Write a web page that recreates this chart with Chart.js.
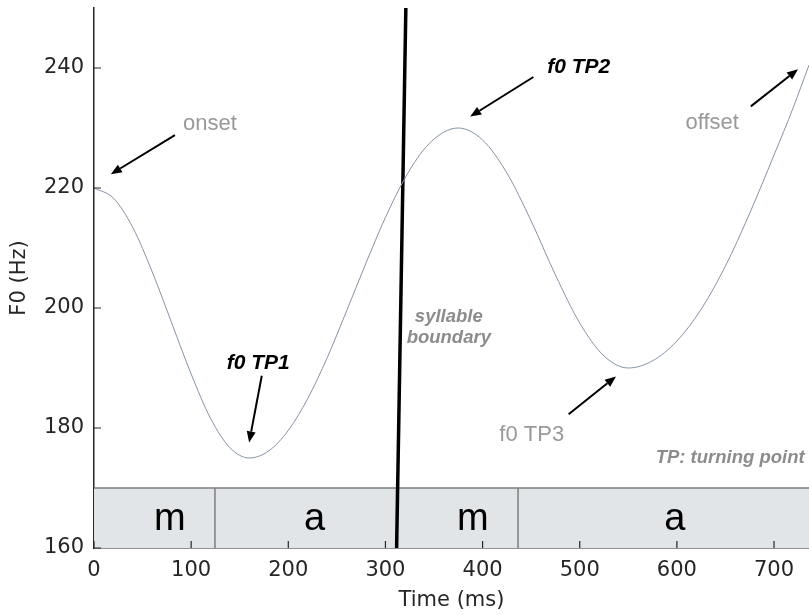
<!DOCTYPE html>
<html>
<head>
<meta charset="utf-8">
<script src="https://cdn.jsdelivr.net/npm/chart.js@4.4.0/dist/chart.umd.min.js"></script>
<style>
  html, body { margin: 0; padding: 0; background: #fff; }
  #wrap { width: 809px; height: 615px; }
</style>
</head>
<body>
<div id="wrap"><canvas id="graficoF0" width="809" height="615"></canvas></div>
<script>
// Contorno de F0 (tempo em ms, F0 em Hz)
const tempos = [0, 20, 40, 60, 80, 100, 120, 140, 160, 180, 200, 220, 240, 260, 280, 300, 320, 340, 360, 375,
  400, 425, 450, 475, 500, 525, 550, 575, 600, 625, 650, 675, 700, 720, 736];
const valoresF0 = [220, 218.3, 213.4, 206, 197.5, 189, 181.6, 176.7, 175, 176.2, 179.6, 184.9, 191.7, 199.5, 207.5, 215.1, 221.6, 226.5, 229.3, 230,
  228, 222.5, 214.5, 205.5, 197.5, 192, 190, 191.2, 194.5, 199.8, 207, 215.8, 225.5, 233.5, 240.5];

// Fronteira silábica (linha grossa)
const fronteiraTempo = [311.5, 321];
const fronteiraF0 = [160, 250];

// Segmentos (faixa inferior)
const segmentos = ['m', 'a', 'm', 'a'];
const segInicio = [0, 124.5, 311.5, 436.5];
const segFim = [124.5, 311.5, 436.5, 736];
const segRotuloX = [78, 227, 390, 598];

// Ticks dos eixos
const ticksX = [0, 100, 200, 300, 400, 500, 600, 700];
const ticksY = [160, 180, 200, 220, 240];

// Anotações: texto, posição e seta (de -> para), em unidades dos eixos
const notas = [
  { texto: 'onset', x: 119.3, y: 230.7, cor: '#999999', fonte: '22px "Liberation Sans"', seta: [83.3, 228.8, 17.3, 222.3] },
  { texto: 'f0 TP1', x: 169, y: 190.8, cor: '#000000', fonte: 'italic bold 21px "Liberation Sans"', seta: [172.7, 188.7, 159.7, 177.6] },
  { texto: 'f0 TP2', x: 499, y: 240.2, cor: '#000000', fonte: 'italic bold 21px "Liberation Sans"', seta: [452.3, 238.5, 387.2, 231.9] },
  { texto: 'offset', x: 636.3, y: 230.9, cor: '#999999', fonte: '22px "Liberation Sans"', seta: [676.1, 233.6, 724.7, 239.8] },
  { texto: 'f0 TP3', x: 450.6, y: 178.9, cor: '#999999', fonte: '22px "Liberation Sans"', seta: [488.6, 182.3, 537.3, 188.6] },
  { texto: 'syllable', x: 365.2, y: 198.5, cor: '#8c8c8c', fonte: 'italic bold 18.5px "Liberation Sans"' },
  { texto: 'boundary', x: 365.2, y: 195, cor: '#8c8c8c', fonte: 'italic bold 18.5px "Liberation Sans"' },
  { texto: 'TP: turning point', x: 731.5, y: 175, cor: '#8c8c8c', fonte: 'italic bold 18.5px "Liberation Sans"', alinhar: 'right' }
];

const corTexto = '#262626';
const fonteEixo = { family: '"DejaVu Sans"', size: 21 };

// Faixa dos segmentos, desenhada antes das linhas
const faixaSegmentos = {
  id: 'faixaSegmentos',
  beforeDatasetsDraw(chart) {
    const { ctx, scales: { x, y } } = chart;
    const topo = y.getPixelForValue(170);
    const base = y.getPixelForValue(160);
    ctx.save();
    segmentos.forEach((s, i) => {
      const x0 = x.getPixelForValue(segInicio[i]);
      const x1 = x.getPixelForValue(segFim[i]);
      ctx.fillStyle = '#e2e5e8';
      ctx.fillRect(x0, topo, x1 - x0, base - topo);
    });
    ctx.strokeStyle = '#7d7d7d';
    ctx.lineWidth = 1.5;
    ctx.beginPath();
    ctx.moveTo(x.getPixelForValue(0), topo);
    ctx.lineTo(x.getPixelForValue(736), topo);
    segInicio.slice(1).forEach(v => {
      const px = x.getPixelForValue(v);
      ctx.moveTo(px, topo);
      ctx.lineTo(px, base);
    });
    ctx.stroke();
    ctx.fillStyle = '#000';
    ctx.font = '38px "Liberation Sans"';
    ctx.textAlign = 'center';
    ctx.textBaseline = 'middle';
    segmentos.forEach((s, i) => {
      ctx.fillText(s, x.getPixelForValue(segRotuloX[i]), y.getPixelForValue(164.8));
    });
    ctx.restore();
  }
};

function desenharSeta(ctx, x0, y0, x1, y1) {
  const ang = Math.atan2(y1 - y0, x1 - x0);
  const comp = 11, larg = 4.5;
  const bx = x1 - comp * Math.cos(ang);
  const by = y1 - comp * Math.sin(ang);
  ctx.beginPath();
  ctx.moveTo(x0, y0);
  ctx.lineTo(bx, by);
  ctx.stroke();
  ctx.beginPath();
  ctx.moveTo(x1, y1);
  ctx.lineTo(bx + larg * Math.sin(ang), by - larg * Math.cos(ang));
  ctx.lineTo(bx - larg * Math.sin(ang), by + larg * Math.cos(ang));
  ctx.closePath();
  ctx.fill();
}

// Textos, setas e ticks internos dos eixos
const anotacoes = {
  id: 'anotacoes',
  afterDraw(chart) {
    const { ctx, scales: { x, y } } = chart;
    ctx.save();
    notas.forEach(n => {
      ctx.font = n.fonte;
      ctx.fillStyle = n.cor;
      ctx.textAlign = n.alinhar || 'center';
      ctx.textBaseline = 'middle';
      ctx.fillText(n.texto, x.getPixelForValue(n.x), y.getPixelForValue(n.y));
      if (n.seta) {
        ctx.strokeStyle = '#000';
        ctx.fillStyle = '#000';
        ctx.lineWidth = 2;
        const [a, b, c, d] = n.seta;
        desenharSeta(ctx, x.getPixelForValue(a), y.getPixelForValue(b), x.getPixelForValue(c), y.getPixelForValue(d));
      }
    });
    // ticks para dentro
    ctx.strokeStyle = corTexto;
    ctx.lineWidth = 1.2;
    ctx.beginPath();
    const esq = x.getPixelForValue(0);
    const baixo = y.getPixelForValue(160);
    ticksY.forEach(v => {
      const py = y.getPixelForValue(v);
      ctx.moveTo(esq, py);
      ctx.lineTo(esq + 7, py);
    });
    ticksX.forEach(v => {
      const px = x.getPixelForValue(v);
      ctx.moveTo(px, baixo);
      ctx.lineTo(px, baixo - 7);
    });
    ctx.stroke();
    ctx.restore();
  }
};

new Chart(document.querySelector('#graficoF0'), {
  type: 'line',
  data: {
    datasets: [
      {
        data: tempos.map((t, i) => ({ x: t, y: valoresF0[i] })),
        borderColor: '#8592a8',
        borderWidth: 1,
        pointRadius: 0,
        cubicInterpolationMode: 'monotone',
        fill: false
      },
      {
        data: fronteiraTempo.map((t, i) => ({ x: t, y: fronteiraF0[i] })),
        borderColor: '#000',
        borderWidth: 3.5,
        pointRadius: 0,
        fill: false
      }
    ]
  },
  options: {
    responsive: false,
    devicePixelRatio: 1,
    animation: false,
    layout: { padding: { top: 8, right: 0, left: 0, bottom: 0 } },
    plugins: { legend: { display: false }, tooltip: { enabled: false } },
    scales: {
      x: {
        type: 'linear',
        min: 0,
        max: 736,
        afterBuildTicks: s => { s.ticks = ticksX.map(v => ({ value: v })); },
        afterFit: s => { s.height = 67; s.paddingLeft = 0; s.paddingRight = 0; },
        grid: { display: false, drawTicks: false },
        border: { display: true, color: corTexto, width: 1.5 },
        ticks: { color: corTexto, font: fonteEixo, padding: 10, maxRotation: 0 },
        title: { display: true, text: 'Time (ms)', color: corTexto, font: fonteEixo, padding: { top: 0, bottom: 2 } }
      },
      y: {
        min: 160,
        max: 250,
        afterBuildTicks: s => { s.ticks = ticksY.map(v => ({ value: v })); },
        afterFit: s => { s.width = 94; s.paddingTop = 0; s.paddingBottom = 0; },
        grid: { display: false, drawTicks: false },
        border: { display: true, color: corTexto, width: 1.5 },
        ticks: { color: corTexto, font: fonteEixo, padding: 10 },
        title: { display: true, text: 'F0 (Hz)', color: corTexto, font: fonteEixo, padding: { top: 7, bottom: 0 } }
      }
    }
  },
  plugins: [faixaSegmentos, anotacoes]
});
</script>
</body>
</html>
